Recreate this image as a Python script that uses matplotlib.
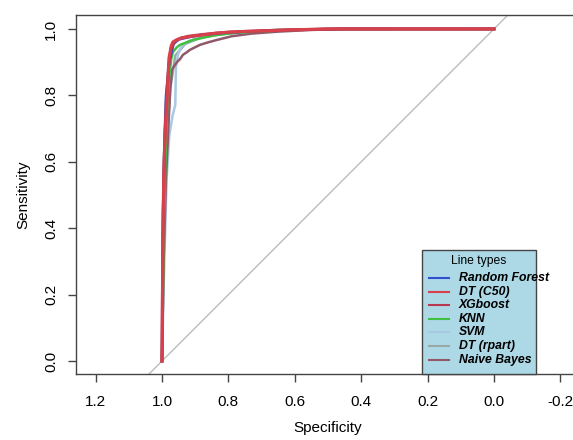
import matplotlib
matplotlib.use("Agg")
import matplotlib.pyplot as plt
from matplotlib.patches import Rectangle
from matplotlib.lines import Line2D

plt.rcParams['font.family'] = ['Liberation Sans', 'DejaVu Sans']

# roc points (specificity, sensitivity)
rf_spec = [1.0, 0.997, 0.993, 0.988, 0.978, 0.965, 0.95, 0.92, 0.88, 0.82, 0.75, 0.65, 0.55, 0.45, 0.0]
rf_sens = [0.0, 0.45, 0.65, 0.80, 0.90, 0.955, 0.968, 0.975, 0.982, 0.988, 0.992, 0.996, 0.999, 1.0, 1.0]

c50_spec = [1.0, 0.998, 0.995, 0.99, 0.985, 0.979, 0.972, 0.967, 0.955, 0.94, 0.91, 0.877, 0.84, 0.795, 0.74, 0.705, 0.62, 0.5, 0.0]
c50_sens = [0.0, 0.3, 0.55, 0.70, 0.771, 0.913, 0.95, 0.961, 0.968, 0.973, 0.978, 0.982, 0.987, 0.991, 0.993, 0.994, 0.997, 1.0, 1.0]

xgb_spec = [1.0, 0.997, 0.993, 0.987, 0.98, 0.972, 0.962, 0.945, 0.92, 0.88, 0.83, 0.76, 0.68, 0.58, 0.48, 0.0]
xgb_sens = [0.0, 0.4, 0.62, 0.78, 0.89, 0.945, 0.962, 0.972, 0.978, 0.983, 0.988, 0.992, 0.995, 0.998, 1.0, 1.0]

knn_spec = [1.0, 0.995, 0.99, 0.985, 0.979, 0.972, 0.967, 0.955, 0.946, 0.925, 0.907, 0.87, 0.834, 0.78, 0.70, 0.60, 0.50, 0.0]
knn_sens = [0.0, 0.35, 0.6, 0.75, 0.852, 0.91, 0.931, 0.945, 0.952, 0.96, 0.967, 0.975, 0.982, 0.988, 0.993, 0.997, 1.0, 1.0]

svm_spec = [1.0, 0.993, 0.986, 0.978, 0.968, 0.96, 0.958, 0.952, 0.945, 0.937, 0.92, 0.89, 0.85, 0.80, 0.72, 0.62, 0.5, 0.0]
svm_sens = [0.0, 0.3, 0.55, 0.68, 0.74, 0.771, 0.883, 0.922, 0.94, 0.952, 0.963, 0.972, 0.98, 0.986, 0.992, 0.997, 1.0, 1.0]

rpart_spec = [1.0, 0.99, 0.975, 0.96, 0.93, 0.88, 0.80, 0.65, 0.0]
rpart_sens = [0.0, 0.6, 0.82, 0.92, 0.955, 0.975, 0.988, 0.998, 1.0]

nb_spec = [1.0, 0.995, 0.988, 0.98, 0.975, 0.97, 0.962, 0.955, 0.945, 0.937, 0.925, 0.916, 0.90, 0.886, 0.86, 0.834, 0.79, 0.73, 0.65, 0.55, 0.45, 0.0]
nb_sens = [0.0, 0.3, 0.55, 0.72, 0.82, 0.877, 0.89, 0.90, 0.91, 0.922, 0.93, 0.937, 0.945, 0.952, 0.96, 0.967, 0.978, 0.986, 0.992, 0.997, 1.0, 1.0]

model_names = ["Random Forest", "DT (C50)", "XGboost", "KNN", "SVM", "DT (rpart)", "Naive Bayes"]
model_colors = ["#3050d0", "#d8404c", "#b83850", "#40c040", "#a8c8e4", "#98aaa6", "#905868"]

x_ticks = [1.2, 1.0, 0.8, 0.6, 0.4, 0.2, 0.0, -0.2]
y_ticks = [0.0, 0.2, 0.4, 0.6, 0.8, 1.0]

W, H = 573, 440
fig = plt.figure(figsize=(W / 100, H / 100), dpi=100)
# axes box runs past the right edge like the cropped original
ax = fig.add_axes([76 / W, (H - 374) / H, (580 - 76) / W, (374 - 15) / H])
ax.set_xlim(1.259, -0.259)
ax.set_ylim(-0.039, 1.042)

ax.axline((1, 0), (0, 1), color="#bdbdbd", lw=1.0, zorder=1)

curves = {
    "DT (rpart)": (rpart_spec, rpart_sens),
    "SVM": (svm_spec, svm_sens),
    "Naive Bayes": (nb_spec, nb_sens),
    "KNN": (knn_spec, knn_sens),
    "Random Forest": (rf_spec, rf_sens),
    "XGboost": (xgb_spec, xgb_sens),
    "DT (C50)": (c50_spec, c50_sens),
}
for name in curves:
    sp, se = curves[name]
    col = model_colors[model_names.index(name)]
    lw = 2.2 if name in ("DT (C50)", "XGboost") else 1.8
    ax.plot(sp, se, color=col, lw=lw, zorder=2)

ax.set_xticks(x_ticks)
ax.set_xticklabels(["%.1f" % t for t in x_ticks])
ax.set_yticks(y_ticks)
ax.set_yticklabels(["%.1f" % t for t in y_ticks], rotation=90, va="center")
ax.tick_params(direction="out", length=6, width=1, color="#444444", labelsize=11)
ax.tick_params(axis="x", pad=9)
ax.tick_params(axis="y", pad=7)
for s in ax.spines.values():
    s.set_color("#444444")
    s.set_linewidth(1.0)
ax.set_xlabel("Specificity", fontsize=11, labelpad=9)
ax.set_ylabel("Sensitivity", fontsize=11, labelpad=10)

# legend drawn by hand, R style box
def fx(px):
    return px / W
def fy(py):
    return 1 - py / H

box = Rectangle((fx(422), fy(374)), fx(536) - fx(422), fy(250) - fy(374),
                transform=fig.transFigure, facecolor="#add8e6", edgecolor="#444444", lw=1.0, zorder=5)
fig.patches.append(box)
fig.text(fx(479), fy(261), "Line types", ha="center", va="center", fontsize=8.7, zorder=6)
row_y = [278, 292, 305, 319, 332, 346, 360]
for i in range(len(model_names)):
    fig.lines.append(Line2D([fx(429), fx(449)], [fy(row_y[i]), fy(row_y[i])],
                            transform=fig.transFigure, color=model_colors[i], lw=1.5, zorder=6))
    fig.text(fx(459), fy(row_y[i]), model_names[i], ha="left", va="center",
             fontsize=8.8, fontweight="bold", fontstyle="italic", zorder=6)

fig.savefig("out.png", dpi=100)
